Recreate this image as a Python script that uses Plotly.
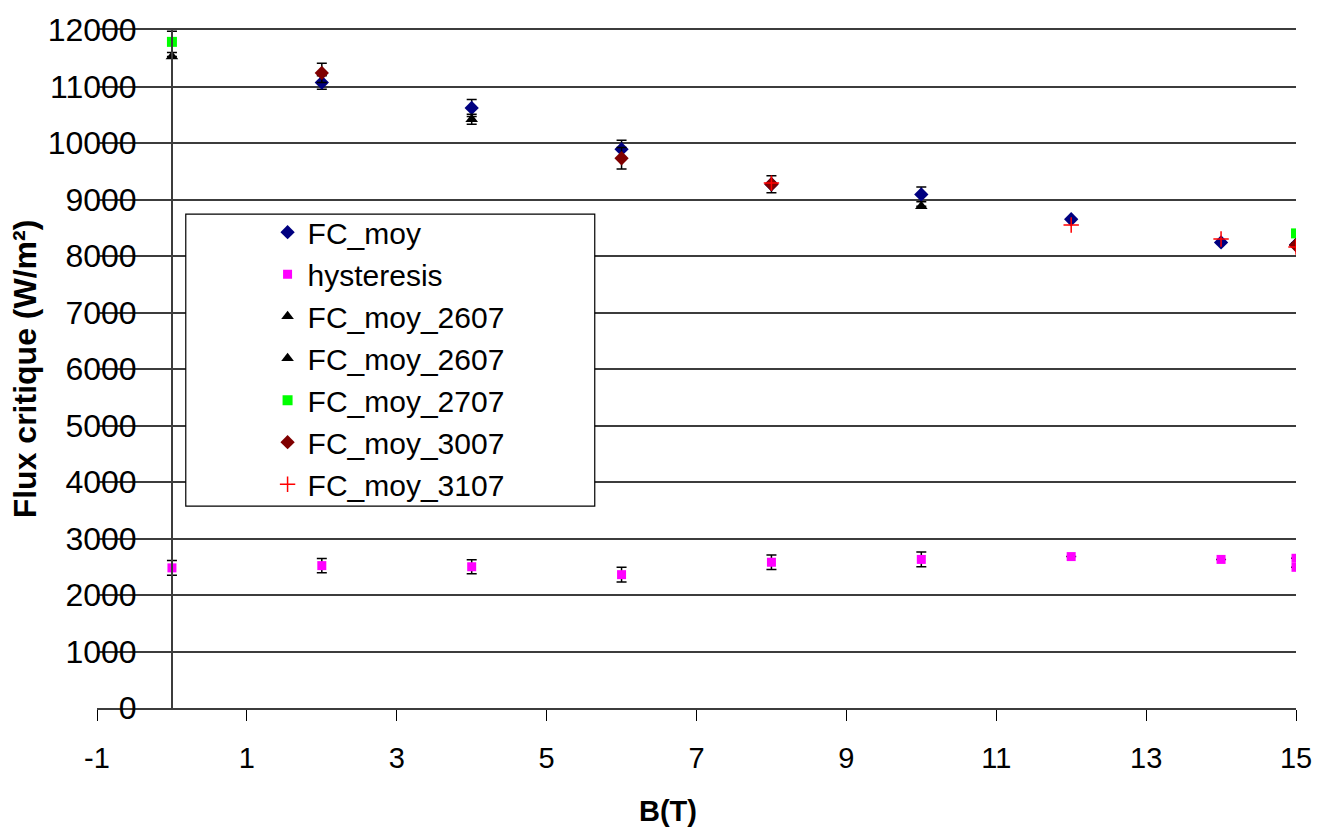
import plotly.graph_objects as go

# ---------------- data ----------------
fc_moy_x = [2, 4, 6, 8, 10, 12, 14, 15]
fc_moy_y = [11070, 10620, 9890, 9270, 9090, 8650, 8240, 8200]
fc_moy_err = [120, 150, 160, 150, 130, 0, 0, 0]

hyst_x = [0, 2, 4, 6, 8, 10, 12, 14, 15, 15]
hyst_y = [2480, 2520, 2500, 2360, 2580, 2630, 2680, 2630, 2650, 2490]
hyst_err = [130, 125, 125, 130, 130, 130, 0, 0, 0, 0]

fc2607a_x = [4, 10]
fc2607a_y = [10420, 8880]
fc2607a_err = [90, 0]

fc2607b_x = [0, 15]
fc2607b_y = [11530, 8230]
fc2607b_err = [0, 0]

fc2707_x = [0, 15]
fc2707_y = [11790, 8400]
fc2707_err = [190, 0]

fc3007_x = [2, 6, 8, 15]
fc3007_y = [11240, 9730, 9270, 8190]
fc3007_err = [170, 190, 0, 0]

fc3107_x = [8, 12, 14, 15]
fc3107_y = [9290, 8550, 8300, 8160]

x_tickvals = [-1, 1, 3, 5, 7, 9, 11, 13, 15]
x_ticktext = ["-1", "1", "3", "5", "7", "9", "11", "13", "15"]
x_range = [-1, 15]
y_range = [0, 12000]

# ---------------- layout geometry (pixels) ----------------
W, H = 1324, 829
L, R, T, B = 97, 25, 23, 121
PW = W - L - R
PH = H - T - B

def px_x(p):
    return (p - L) / PW

def px_y(p):
    return (H - B - p) / PH

FONT = "Liberation Sans, Arial, sans-serif"

def errs(vals):
    return dict(type="data", array=vals, visible=True, color="black",
                thickness=1.5, width=5)

fig = go.Figure()

fig.add_trace(go.Scatter(
    x=fc_moy_x, y=fc_moy_y, mode="markers", name="FC_moy",
    marker=dict(symbol="diamond", size=11, color="#000080"),
    error_y=errs(fc_moy_err)))
fig.add_trace(go.Scatter(
    x=hyst_x, y=hyst_y, mode="markers", name="hysteresis",
    marker=dict(symbol="square", size=9, color="#FF00FF"),
    error_y=errs(hyst_err)))
fig.add_trace(go.Scatter(
    x=fc2607a_x, y=fc2607a_y, mode="markers", name="FC_moy_2607",
    marker=dict(symbol="triangle-up", size=11, color="black"),
    error_y=errs(fc2607a_err)))
fig.add_trace(go.Scatter(
    x=fc2607b_x, y=fc2607b_y, mode="markers", name="FC_moy_2607",
    marker=dict(symbol="triangle-up", size=11, color="black"),
    error_y=errs(fc2607b_err)))
fig.add_trace(go.Scatter(
    x=fc2707_x, y=fc2707_y, mode="markers", name="FC_moy_2707",
    marker=dict(symbol="square", size=10, color="#00FF00"),
    error_y=errs(fc2707_err)))
fig.add_trace(go.Scatter(
    x=fc3007_x, y=fc3007_y, mode="markers", name="FC_moy_3007",
    marker=dict(symbol="diamond", size=11, color="#800000"),
    error_y=errs(fc3007_err)))
fig.add_trace(go.Scatter(
    x=fc3107_x, y=fc3107_y, mode="markers", name="FC_moy_3107",
    marker=dict(symbol="cross-thin", size=11, color="#FF0000",
                line=dict(color="#FF0000", width=1.5))))

# legend frame
fig.add_shape(type="rect", xref="paper", yref="paper",
              x0=px_x(186), x1=px_x(596), y0=px_y(504), y1=px_y(209),
              line=dict(color="black", width=1.2), fillcolor="white",
              layer="above")

fig.update_layout(
    width=W, height=H,
    margin=dict(l=L, r=R, t=T, b=B, pad=0),
    paper_bgcolor="white", plot_bgcolor="white",
    font=dict(family=FONT, color="black"),
    showlegend=True,
    legend=dict(x=px_x(268), y=px_y(201), xanchor="left", yanchor="top",
                bgcolor="rgba(0,0,0,0)", borderwidth=0,
                font=dict(family=FONT, size=30, color="black")),
    xaxis=dict(range=x_range, tickvals=x_tickvals, ticktext=x_ticktext,
               ticks="outside", ticklen=11,
               tickcolor="black", tickwidth=1.2, showline=True, mirror=True,
               linecolor="#3c3c3c", linewidth=1.5, showgrid=False,
               zeroline=False, ticklabelstandoff=12,
               tickfont=dict(family=FONT, size=29, color="black")),
    yaxis=dict(range=y_range, dtick=1000, tickformat="d",
               anchor="free", position=px_x(172),
               showline=True, linecolor="#3c3c3c", linewidth=1.5,
               ticks="outside", ticklen=28, tickcolor="rgba(0,0,0,0)",
               showgrid=True, gridcolor="#3c3c3c", gridwidth=1.5,
               zeroline=False,
               tickfont=dict(family=FONT, size=32, color="black"),
               title=dict(text="<b>Flux critique (W/m²)</b>", standoff=0,
                          font=dict(family=FONT, size=32, color="black"))),
    annotations=[dict(text="<b>B(T)</b>", xref="paper", yref="paper",
                      x=px_x(669), y=px_y(812), xanchor="center",
                      yanchor="middle", showarrow=False,
                      font=dict(family=FONT, size=29, color="black"))],
)

fig.write_html("out.html")
